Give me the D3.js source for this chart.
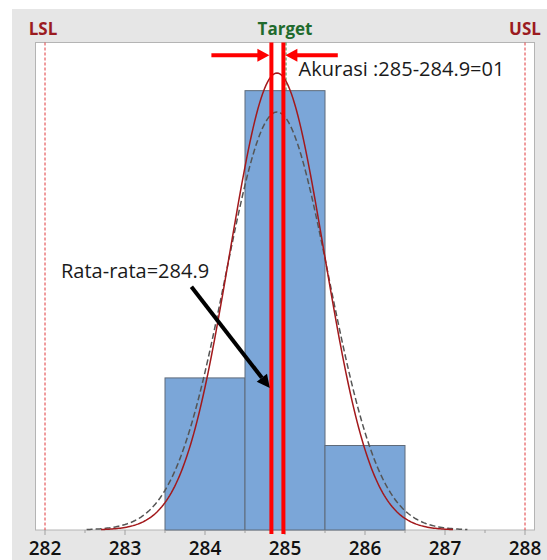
<!DOCTYPE html>
<html>
<head>
<meta charset="utf-8">
<script src="https://cdn.jsdelivr.net/npm/d3@7"></script>
<style>
  body { margin: 0; background: #fff; }
  svg { display: block; }
</style>
</head>
<body>
<svg id="chart" width="547" height="560"></svg>
<script>
// histogram data
const xTicks = [282, 283, 284, 285, 286, 287, 288];
const binLeft = [283.5, 284.5, 285.5];
const binCounts = [9, 26, 5];
const binWidth = 1;

// spec limits
const specNames = ["LSL", "Target", "USL"];
const specValues = [282, 285, 288];

// fitted normal curves
const meanValue = 284.9;
const sigmaWithin = 0.59;
const sigmaOverall = 0.645;
const withinRange = [282.7, 287.1];
const overallRange = [282.52, 287.28];

// annotations
const markLines = [284.83, 284.98];
const leftArrow = [284.08, 28.1];   // [x from, y]
const rightArrow = [285.66, 28.1];
const meanArrow = [[283.83, 14.4], [284.81, 8.4]];
const notes = [
  { text: "Akurasi :285-284.9=01", x: 285.17, y: 26.85, size: 20 },
  { text: "Rata-rata=284.9", x: 282.2, y: 14.9, size: 20 }
];

const svg = d3.select("#chart");
const margin = { top: 42.5, right: 12, bottom: 30, left: 35 };
const width = 547, height = 560;

// gray frame
svg.append("rect")
  .attr("x", 12).attr("y", 9)
  .attr("width", width - 12).attr("height", height - 9)
  .attr("fill", "#e6e6e6");

const x = d3.scaleLinear().domain([281.875, 288.125]).range([margin.left, width - margin.right]);
const y = d3.scaleLinear().domain([0, 28.85]).range([height - margin.bottom, margin.top]);

// plot area
svg.append("rect")
  .attr("x", margin.left + 0.5).attr("y", margin.top)
  .attr("width", width - margin.right - margin.left - 1)
  .attr("height", height - margin.bottom - margin.top)
  .attr("fill", "#fff")
  .attr("stroke", "#b4b4b4");

// target line sits behind the bars
svg.append("line")
  .attr("x1", x(specValues[1]) + 1).attr("x2", x(specValues[1]) + 1)
  .attr("y1", margin.top).attr("y2", y(0))
  .attr("stroke", "#2e8b3a").attr("stroke-width", 1)
  .attr("stroke-dasharray", "3,2");

// bars
svg.selectAll(".bar")
  .data(binLeft)
  .enter()
  .append("rect")
  .attr("class", "bar")
  .attr("x", (d) => x(d))
  .attr("y", (d, i) => y(binCounts[i]))
  .attr("width", (d) => x(d + binWidth) - x(d))
  .attr("height", (d, i) => y(0) - y(binCounts[i]))
  .attr("fill", "#7ba6d8")
  .attr("stroke", "#5f6b7a")
  .attr("stroke-width", 1);

// LSL / USL lines
svg.selectAll(".spec")
  .data([specValues[0], specValues[2]])
  .enter()
  .append("line")
  .attr("x1", (d) => x(d)).attr("x2", (d) => x(d))
  .attr("y1", margin.top).attr("y2", y(0))
  .attr("stroke", "#e0383c").attr("stroke-width", 1)
  .attr("stroke-dasharray", "3,2");

// normal curves
const total = d3.sum(binCounts);
function normalPoints(sigma, range) {
  return d3.range(range[0], range[1] + 0.001, 0.02).map((v) => {
    const z = (v - meanValue) / sigma;
    return [v, total * binWidth * Math.exp(-0.5 * z * z) / (sigma * Math.sqrt(2 * Math.PI))];
  });
}
const line = d3.line().x((d) => x(d[0])).y((d) => y(d[1]));

svg.append("path")
  .attr("d", line(normalPoints(sigmaOverall, overallRange)))
  .attr("fill", "none")
  .attr("stroke", "#555")
  .attr("stroke-width", 1.5)
  .attr("stroke-dasharray", "6,3");

svg.append("path")
  .attr("d", line(normalPoints(sigmaWithin, withinRange)))
  .attr("fill", "none")
  .attr("stroke", "#a3191c")
  .attr("stroke-width", 1.5);

// x axis ticks
const minorTicks = d3.range(282.5, 288, 1);
svg.selectAll(".minor")
  .data(minorTicks)
  .enter()
  .append("line")
  .attr("x1", (d) => x(d)).attr("x2", (d) => x(d))
  .attr("y1", y(0)).attr("y2", y(0) + 3)
  .attr("stroke", "#a0a0a0");

svg.selectAll(".major")
  .data(xTicks)
  .enter()
  .append("line")
  .attr("x1", (d) => x(d)).attr("x2", (d) => x(d))
  .attr("y1", y(0)).attr("y2", y(0) + 5)
  .attr("stroke", "#a0a0a0");

svg.selectAll(".tickLabel")
  .data(xTicks)
  .enter()
  .append("text")
  .attr("x", (d) => x(d))
  .attr("y", y(0) + 25)
  .attr("text-anchor", "middle")
  .style("font-family", "'Open Sans', sans-serif")
  .style("font-size", "19px")
  .style("font-weight", 600)
  .attr("fill", "#111")
  .text((d) => d);

// spec labels
svg.selectAll(".specLabel")
  .data(specNames)
  .enter()
  .append("text")
  .attr("x", (d, i) => x(specValues[i]) - (i === 0 ? 2 : 0))
  .attr("y", 35)
  .attr("text-anchor", "middle")
  .style("font-family", "'Open Sans', sans-serif")
  .style("font-size", "17px")
  .style("font-weight", 700)
  .attr("fill", (d) => d === "Target" ? "#1f6b2d" : "#9b1b1f")
  .text((d) => d);

// red mark lines
svg.selectAll(".mark")
  .data(markLines)
  .enter()
  .append("line")
  .attr("x1", (d) => x(d)).attr("x2", (d) => x(d))
  .attr("y1", margin.top).attr("y2", y(0) + 4)
  .attr("stroke", "#ff0000").attr("stroke-width", 4);

// red arrows pointing at the mark lines
function arrowHead(tipX, tipY, dir, len, half, color) {
  svg.append("path")
    .attr("d", `M${tipX},${tipY}L${tipX - dir * len},${tipY - half}L${tipX - dir * len},${tipY + half}Z`)
    .attr("fill", color);
}
const ay = y(leftArrow[1]);
const leftTip = x(markLines[0]) - 2;
const rightTip = x(markLines[1]) + 2;
svg.append("line")
  .attr("x1", x(leftArrow[0])).attr("x2", leftTip - 10)
  .attr("y1", ay).attr("y2", ay)
  .attr("stroke", "#ff0000").attr("stroke-width", 4);
arrowHead(leftTip, ay, 1, 12, 6.5, "#ff0000");
svg.append("line")
  .attr("x1", x(rightArrow[0])).attr("x2", rightTip + 10)
  .attr("y1", ay).attr("y2", ay)
  .attr("stroke", "#ff0000").attr("stroke-width", 4);
arrowHead(rightTip, ay, -1, 12, 6.5, "#ff0000");

// black arrow to the mean line
const p0 = [x(meanArrow[0][0]), y(meanArrow[0][1])];
const p1 = [x(meanArrow[1][0]), y(meanArrow[1][1])];
const ang = Math.atan2(p1[1] - p0[1], p1[0] - p0[0]);
const headLen = 13, headHalf = 6.5;
const bx = p1[0] - headLen * Math.cos(ang), by = p1[1] - headLen * Math.sin(ang);
svg.append("line")
  .attr("x1", p0[0]).attr("y1", p0[1])
  .attr("x2", bx).attr("y2", by)
  .attr("stroke", "#000").attr("stroke-width", 4);
svg.append("path")
  .attr("d", `M${p1[0]},${p1[1]}L${bx + headHalf * Math.sin(ang)},${by - headHalf * Math.cos(ang)}L${bx - headHalf * Math.sin(ang)},${by + headHalf * Math.cos(ang)}Z`)
  .attr("fill", "#000");

// annotation texts
svg.selectAll(".note")
  .data(notes)
  .enter()
  .append("text")
  .attr("x", (d) => x(d.x))
  .attr("y", (d) => y(d.y))
  .style("font-family", "'Open Sans', sans-serif")
  .style("font-size", (d) => d.size + "px")
  .attr("fill", "#1a1a1a")
  .text((d) => d.text);
</script>
</body>
</html>
